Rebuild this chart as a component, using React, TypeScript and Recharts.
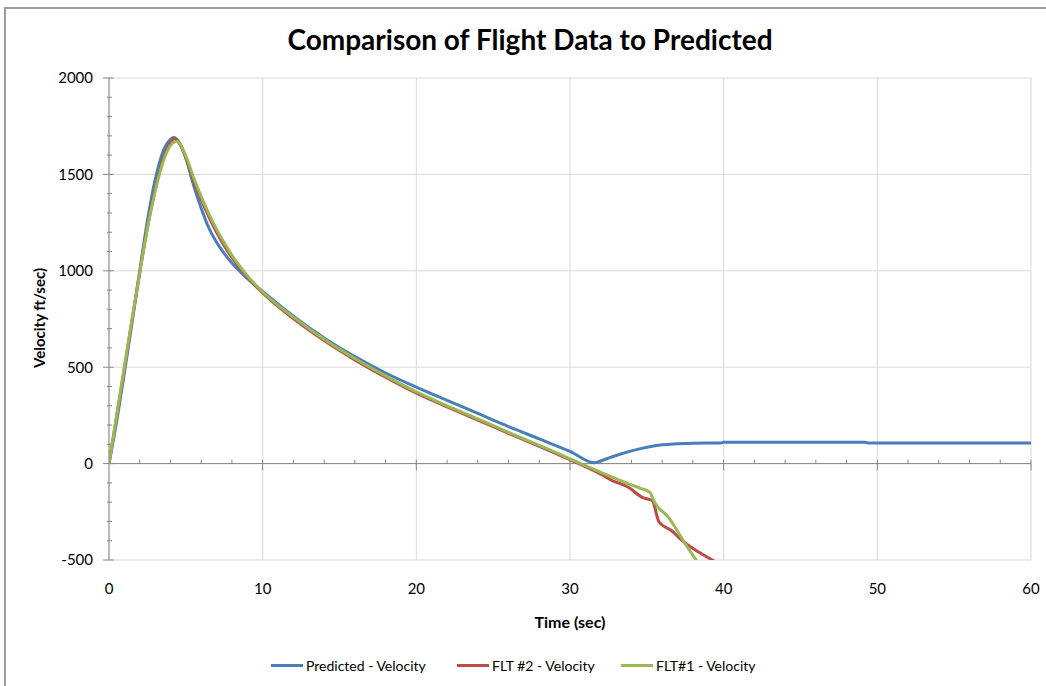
import React from "react";
import { LineChart, Line, XAxis, YAxis, CartesianGrid, ReferenceLine } from "recharts";

/* ─── Data ──────────────────────────────────────────────────────────────── */
const predT = [0, 0.5, 1, 1.5, 2, 2.5, 3, 3.5, 4, 4.2, 4.5, 5, 5.5, 6, 6.5, 7, 7.5, 8, 9, 10, 12, 14, 16, 18, 20, 22, 24, 26, 28, 30, 31.6, 32, 33, 34, 35, 36, 37, 38, 39.8, 40, 49.2, 49.4, 60];
const predV = [0, 220, 470, 730, 1000, 1260, 1470, 1615, 1682, 1692, 1672, 1585, 1445, 1325, 1222, 1148, 1090, 1040, 960, 893, 765, 652, 555, 470, 397, 328, 260, 192, 128, 63, 4, 14, 42, 66, 85, 98, 103, 106, 107, 111, 111, 107, 107];

const flt2T = [0, 0.5, 1, 1.5, 2, 2.5, 3, 3.5, 4, 4.3, 4.6, 5, 5.5, 6, 6.5, 7, 7.5, 8, 8.5, 9, 10, 12, 14, 16, 18, 20, 22, 24, 26, 28, 30, 32, 32.75, 33.8, 34.7, 35.35, 35.8, 36.6, 37.3, 38.4, 39.45, 40];
const flt2V = [0, 245, 495, 745, 990, 1225, 1420, 1575, 1665, 1688, 1660, 1585, 1470, 1370, 1280, 1200, 1130, 1068, 1015, 968, 885, 752, 638, 538, 448, 365, 294, 226, 157, 90, 20, -55, -88, -123, -175, -192, -304, -347, -400, -460, -508, -530];

const flt1T = [0, 0.5, 1, 1.5, 2, 2.5, 3, 3.5, 4, 4.4, 5, 5.5, 6, 6.5, 7, 7.5, 8, 8.5, 9, 10, 12, 14, 16, 18, 20, 22, 24, 26, 28, 30, 32, 33.8, 34.6, 35.2, 35.5, 36.4, 37.5, 38.3, 38.8];
const flt1V = [0, 250, 500, 750, 990, 1220, 1410, 1560, 1650, 1672, 1595, 1485, 1385, 1295, 1215, 1145, 1080, 1025, 975, 890, 760, 645, 545, 455, 372, 300, 232, 162, 95, 25, -45, -105, -128, -149, -200, -278, -416, -512, -580];

const xTicks = [0, 10, 20, 30, 40, 50, 60];
const yTicks = [-500, 0, 500, 1000, 1500, 2000];
const xMinorTicks = [2, 4, 6, 8, 12, 14, 16, 18, 22, 24, 26, 28, 32, 34, 36, 38, 42, 44, 46, 48, 52, 54, 56, 58];
const yMinorTicks = [-400, -300, -200, -100, 100, 200, 300, 400, 600, 700, 800, 900, 1100, 1200, 1300, 1400, 1600, 1700, 1800, 1900];

const seriesNames = ["Predicted - Velocity", "FLT #2 - Velocity", "FLT#1 - Velocity"];
const seriesColors = ["#4a7ebb", "#be4b48", "#98b954"];

const toRows = (t: number[], v: number[]) => t.map((x, i) => ({ t: x, v: v[i] }));

const axisGray = "#868686";
const font = "Lato, 'Open Sans', sans-serif";

export default function App() {
  const series = [toRows(predT, predV), toRows(flt2T, flt2V), toRows(flt1T, flt1V)];
  const legendX = [271, 457, 621];

  return (
    <div style={{ position: "absolute", left: 0, top: 0, width: 1046, height: 686, overflow: "hidden", background: "#fff", fontFamily: font }}>
      {/* chart area border */}
      <div style={{ position: "absolute", left: 4, top: 7, width: 1100, height: 800, border: "2px solid #9a9a9a" }} />

      <div style={{ position: "absolute", left: 0, top: 23, width: 1060, textAlign: "center", fontSize: 28, fontWeight: 700, lineHeight: "32px", color: "#000" }}>
        Comparison of Flight Data to Predicted
      </div>

      <div style={{ position: "absolute", left: 0, top: 0 }}>
        <LineChart width={1046} height={686} margin={{ top: 78, right: 15, left: 49, bottom: 96 }}>
          <CartesianGrid stroke="#d9d9d9" horizontal vertical />
          <XAxis
            dataKey="t"
            type="number"
            domain={[0, 60]}
            ticks={xTicks}
            allowDataOverflow
            axisLine={false}
            tickLine={false}
            tickSize={0}
            tickMargin={23}
            height={30}
            tick={{ fontSize: 15, fill: "#000", fontFamily: font }}
          />
          <YAxis
            type="number"
            domain={[-500, 2000]}
            ticks={yTicks}
            allowDataOverflow
            width={60}
            axisLine={{ stroke: axisGray }}
            tickLine={{ stroke: axisGray }}
            tickSize={6}
            tickMargin={10}
            tick={{ fontSize: 15, fill: "#000", fontFamily: font }}
          />
          <ReferenceLine y={0} stroke={axisGray} />
          {xMinorTicks.map((t) => (
            <ReferenceLine key={"xm" + t} segment={[{ x: t, y: 0 }, { x: t, y: 20 }]} stroke={axisGray} ifOverflow="visible" />
          ))}
          {xTicks.slice(1).map((t) => (
            <ReferenceLine key={"xM" + t} segment={[{ x: t, y: -35 }, { x: t, y: 20 }]} stroke={axisGray} ifOverflow="visible" />
          ))}
          {yMinorTicks.map((v) => (
            <ReferenceLine key={"ym" + v} segment={[{ x: -0.13, y: v }, { x: 0.2, y: v }]} stroke={axisGray} ifOverflow="visible" />
          ))}
          {yTicks.map((v) => (
            <ReferenceLine key={"yM" + v} segment={[{ x: 0, y: v }, { x: 0.3, y: v }]} stroke={axisGray} ifOverflow="visible" />
          ))}
          {series.map((rows, i) => (
            <Line
              key={seriesNames[i]}
              data={rows}
              dataKey="v"
              name={seriesNames[i]}
              type="monotone"
              stroke={seriesColors[i]}
              strokeWidth={3}
              dot={false}
              isAnimationActive={false}
            />
          ))}
        </LineChart>
      </div>

      {/* axis titles */}
      <div style={{ position: "absolute", left: 39, top: 318, transform: "translate(-50%, -50%) rotate(-90deg)", whiteSpace: "nowrap", fontSize: 15, fontWeight: 700 }}>
        Velocity ft/sec)
      </div>
      <div style={{ position: "absolute", left: 570, top: 621, transform: "translate(-50%, -50%)", whiteSpace: "nowrap", fontSize: 16, fontWeight: 700 }}>
        Time (sec)
      </div>

      {/* legend */}
      {seriesNames.map((name, i) => (
        <div key={name} style={{ position: "absolute", left: legendX[i], top: 656, height: 18, display: "flex", alignItems: "center", whiteSpace: "nowrap" }}>
          <div style={{ width: 32, height: 3, background: seriesColors[i], marginRight: 3 }} />
          <span style={{ fontSize: 14, color: "#000" }}>{name}</span>
        </div>
      ))}
    </div>
  );
}
